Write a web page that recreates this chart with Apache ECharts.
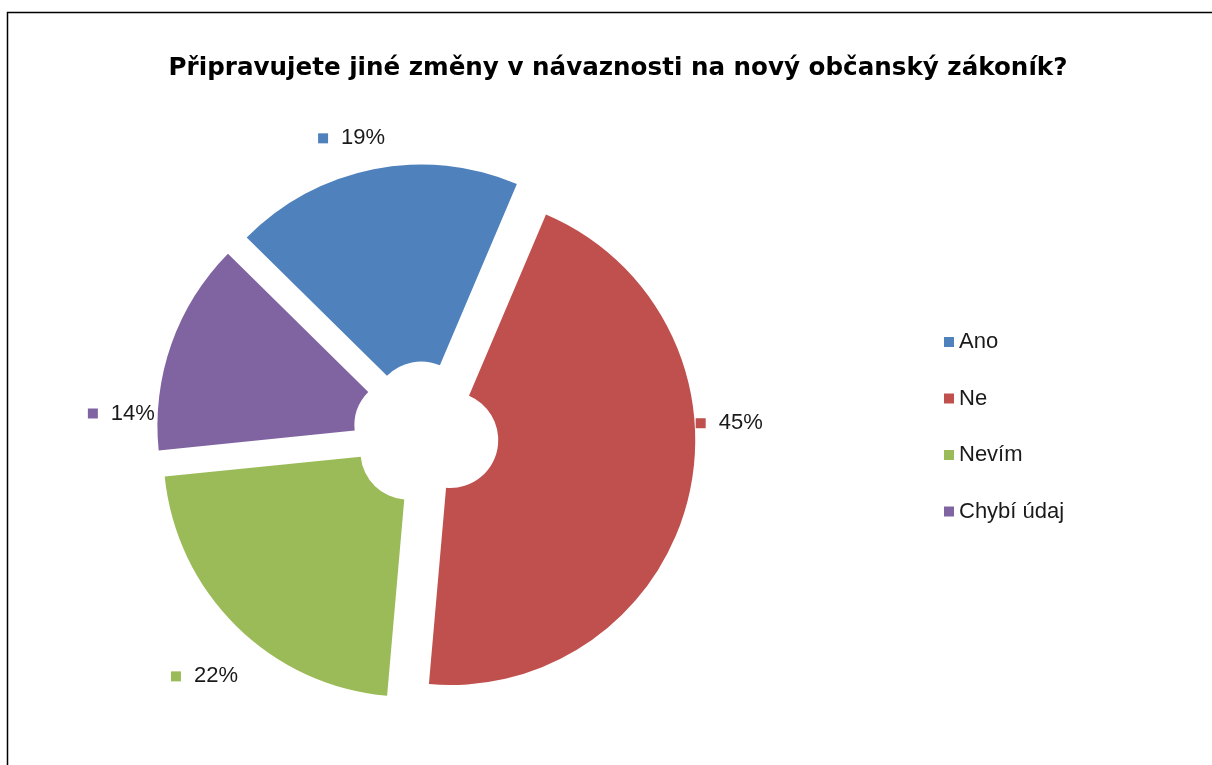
<!DOCTYPE html>
<html><head><meta charset="utf-8">
<script src="https://cdn.jsdelivr.net/npm/echarts@6/dist/echarts.min.js"></script>
<style>html,body{margin:0;padding:0;background:#fff}#chart{width:1212px;height:765px}</style>
</head><body><div id="chart"></div>
<script>
// ---- data ----
const titleText = 'Připravujete jiné změny v návaznosti na nový občanský zákoník?';
const categories = ['Ano', 'Ne', 'Nevím', 'Chybí údaj'];
const values = [19, 45, 22, 14];

// ---- style / layout ----
const colors = ['#4F81BD', '#C0504D', '#9BBB59', '#8064A2'];
const pieCenter = [426, 434];
const radii = [48, 245];
const explode = 25;
const startAngle = 135.4;
const labelNudge = [[18.5, -21], [-7, -78.5], [13.6, 43], [-2, 72.5]];
const textFont = 'Liberation Sans, Arial, sans-serif';

const total = values.reduce((a, b) => a + b, 0);
let cum = 0;
const series = categories.map((name, i) => {
  const mid = startAngle - 360 * (cum + values[i] / 2) / total;
  cum += values[i];
  const rad = mid * Math.PI / 180;
  const cx = pieCenter[0] + explode * Math.cos(rad);
  const cy = pieCenter[1] - explode * Math.sin(rad);
  return {
    type: 'pie', name: name, center: [cx, cy], radius: radii,
    startAngle: startAngle, clockwise: true, avoidLabelOverlap: false,
    silent: true, animation: false,
    itemStyle: { borderWidth: 0 },
    label: {
      show: true, position: 'outside', distanceToLabelLine: 5,
      formatter: p => '{sq|}{sp|}{t|' + p.value + '%}',
      rich: {
        sq: { width: 10, height: 10, backgroundColor: colors[i], verticalAlign: 'middle' },
        sp: { width: 13 },
        t: { fontSize: 22, fontFamily: textFont, color: '#1a1a1a' }
      }
    },
    labelLine: { show: false, length: 10, length2: 0 },
    labelLayout: () => ({ dx: labelNudge[i][0], dy: labelNudge[i][1] }),
    data: categories.map((n, j) => ({
      name: n, value: values[j],
      itemStyle: { color: colors[j], opacity: j === i ? 1 : 0 },
      label: { show: j === i }
    }))
  };
});

const chart = echarts.init(document.getElementById('chart'), null, { renderer: 'canvas' });
chart.setOption({
  backgroundColor: '#fff',
  animation: false,
  title: {
    text: titleText, left: 613, textAlign: 'center', top: 51,
    textStyle: { fontFamily: 'DejaVu Sans', fontWeight: 'bold', fontSize: 24.6, color: '#000' }
  },
  legend: {
    orient: 'vertical', left: 939, top: 324, itemWidth: 10, itemHeight: 10, itemGap: 30.5,
    icon: 'rect', selectedMode: false,
    textStyle: { fontSize: 22, fontFamily: textFont, color: '#1a1a1a', lineHeight: 26 },
    data: categories.map((n, i) => ({ name: n, itemStyle: { color: colors[i], opacity: 1 } }))
  },
  graphic: [{
    type: 'rect', z: -10, silent: true,
    shape: { x: 7.5, y: 12.5, width: 1250, height: 800 },
    style: { fill: 'none', stroke: '#000', lineWidth: 1.5 }
  }],
  series: series
});
</script>
</body></html>
